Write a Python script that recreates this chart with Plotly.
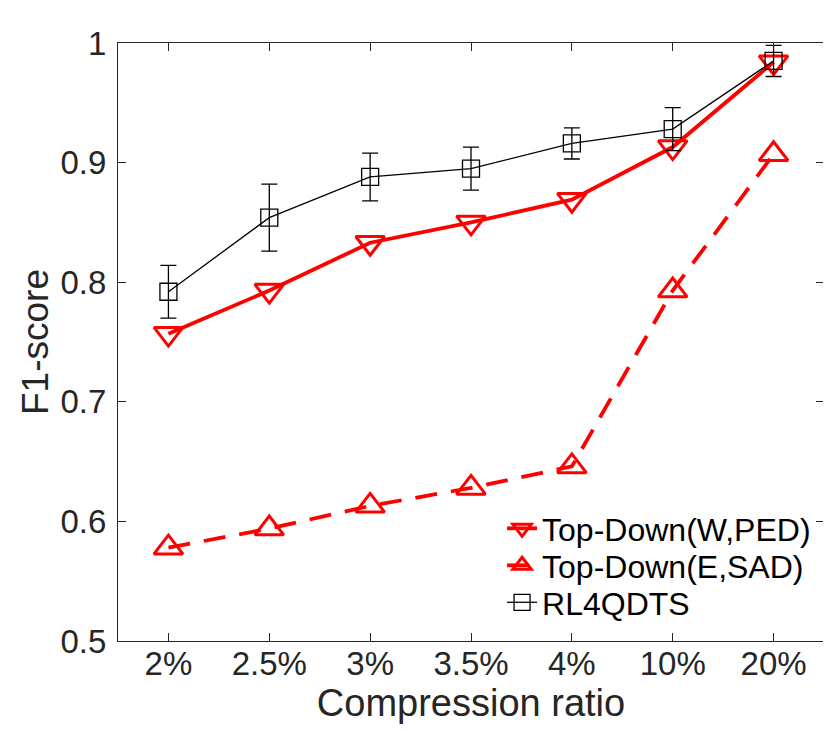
import plotly.graph_objects as go

categories = ["2%", "2.5%", "3%", "3.5%", "4%", "10%", "20%"]
td_w_ped = [0.757, 0.793, 0.833, 0.850, 0.869, 0.913, 0.984]
td_e_sad = [0.578, 0.594, 0.613, 0.628, 0.646, 0.793, 0.907]
rl4qdts = [0.792, 0.854, 0.888, 0.895, 0.916, 0.928, 0.985]
rl4qdts_err = [0.022, 0.028, 0.020, 0.018, 0.013, 0.018, 0.013]
y_ticks = [0.5, 0.6, 0.7, 0.8, 0.9, 1.0]
y_tick_text = ["0.5", "0.6", "0.7", "0.8", "0.9", "1"]

FONT = "Liberation Sans, Arial, sans-serif"
AX = "#262626"

fig = go.Figure()
fig.add_trace(go.Scatter(
    x=categories, y=td_w_ped, name="Top-Down(W,PED)", mode="lines+markers",
    line=dict(color="#ff0000", width=3.8), legend="legend",
    marker=dict(symbol="triangle-down-open", size=25, color="#ff0000",
                line=dict(width=3, color="#ff0000")),
))
fig.add_trace(go.Scatter(
    x=categories, y=td_e_sad, name="Top-Down(E,SAD)", mode="lines+markers",
    line=dict(color="#ff0000", width=3.8, dash="22px,14px"), legend="legend2",
    marker=dict(symbol="triangle-up-open", size=25, color="#ff0000",
                line=dict(width=3, color="#ff0000")),
))
fig.add_trace(go.Scatter(
    x=categories, y=rl4qdts, name="RL4QDTS", mode="lines+markers",
    line=dict(color="#000000", width=1.3), legend="legend3",
    marker=dict(symbol="square-open", size=17, color="#000000",
                line=dict(width=1.3, color="#000000")),
    error_y=dict(type="data", array=rl4qdts_err, visible=True,
                 color="#000000", thickness=1.3, width=8),
))

def leg(y):
    return dict(
        x=0.544, y=y, xanchor="left", yanchor="top",
        bgcolor="rgba(255,255,255,0)", borderwidth=0,
        font=dict(family=FONT, size=32, color="#000000"),
        tracegroupgap=0, itemwidth=30,
    )

fig.update_layout(
    width=820, height=730,
    margin=dict(l=110, r=4, t=35, b=97),
    paper_bgcolor="white", plot_bgcolor="white",
    font=dict(family=FONT, color=AX, size=33),
    showlegend=True,
    legend=leg(0.2341),
    legend2=leg(0.1722),
    legend3=leg(0.1104),
)
fig.update_xaxes(
    type="category", range=[-0.5, 6.5],
    showline=True, linecolor=AX, linewidth=1.2, mirror="ticks",
    ticks="inside", ticklen=8, tickcolor=AX, tickwidth=1.2,
    showgrid=False, zeroline=False, ticklabelstandoff=-7,
    tickfont=dict(family=FONT, size=33, color=AX),
    title=dict(text="Compression ratio", font=dict(family=FONT, size=38, color=AX), standoff=0),
)
fig.update_yaxes(
    range=[0.5, 1.0], tickvals=y_ticks, ticktext=y_tick_text,
    showline=True, linecolor=AX, linewidth=1.2, mirror="ticks",
    ticks="inside", ticklen=8, tickcolor=AX, tickwidth=1.2,
    showgrid=False, zeroline=False, ticklabelstandoff=4,
    tickfont=dict(family=FONT, size=33, color=AX),
    title=dict(text="F1-score", font=dict(family=FONT, size=37, color=AX), standoff=0),
)

fig.write_html("out.html")
